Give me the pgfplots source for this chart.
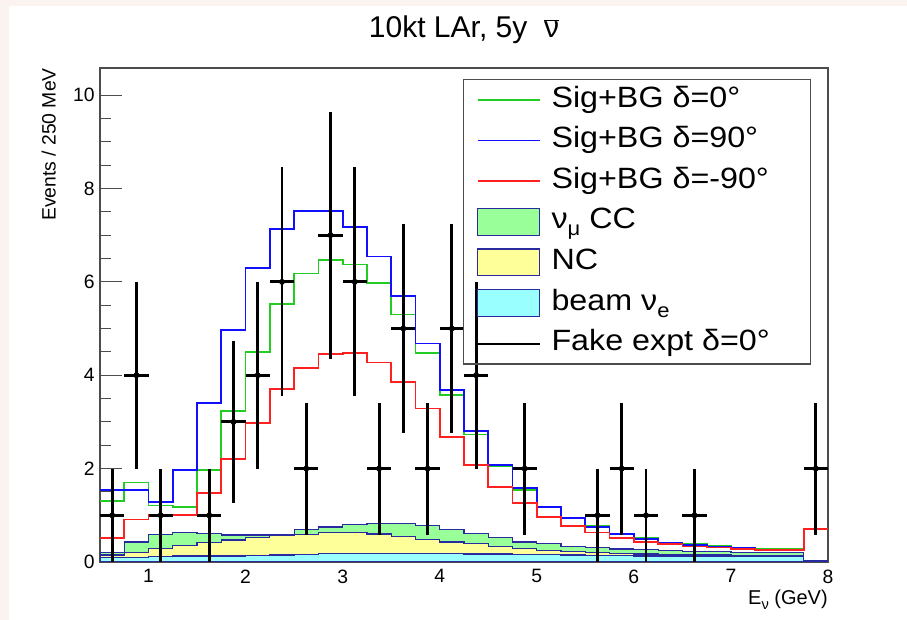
\documentclass[border=0pt]{standalone}
\usepackage{pgfplots}
\usepackage{pgfplotstable}
\pgfplotsset{compat=1.18}
\usepackage{fontspec}
\setmainfont{Liberation Sans}
\newfontfamily\legfont[FakeStretch=1.1]{Liberation Sans}

\definecolor{pagebg}{HTML}{FAF3EF}
\definecolor{ccfill}{HTML}{99FF99}
\definecolor{ncfill}{HTML}{FFFF99}
\definecolor{befill}{HTML}{99FFFF}
\definecolor{histline}{HTML}{2A2AA0}
\definecolor{lgreen}{HTML}{22CC22}
\definecolor{lblue}{HTML}{1010FF}
\definecolor{lred}{HTML}{FF2020}

% 250 MeV bins from 0.5 to 8 GeV (value holds from x to the next x)
% s0, s90, sm90: signal+background for delta = 0, 90, -90 degrees
% tot, nc, beam: stacked background levels (nu_mu CC on top of NC on top of beam nu_e)
\pgfplotstableread{
x    s0   s90  sm90 tot  nc   beam
0.50 1.31 1.54 0.51 0.20 0.15 0.10
0.75 1.70 1.54 0.91 0.43 0.21 0.09
1.00 1.21 1.28 1.01 0.59 0.29 0.11
1.25 1.18 1.97 1.01 0.63 0.36 0.13
1.50 1.97 3.40 1.47 0.61 0.42 0.13
1.75 3.23 4.97 2.20 0.58 0.47 0.13
2.00 4.50 6.29 2.98 0.58 0.52 0.14
2.25 5.53 7.13 3.70 0.59 0.56 0.15
2.50 6.18 7.52 4.16 0.69 0.59 0.16
2.75 6.47 7.52 4.45 0.75 0.63 0.18
3.00 6.37 7.18 4.47 0.81 0.63 0.18
3.25 5.98 6.54 4.27 0.83 0.60 0.18
3.50 5.30 5.70 3.85 0.83 0.54 0.18
3.75 4.47 4.68 3.29 0.78 0.49 0.18
4.00 3.58 3.68 2.68 0.69 0.43 0.18
4.25 2.73 2.81 2.08 0.61 0.39 0.17
4.50 2.06 2.08 1.61 0.52 0.33 0.17
4.75 1.54 1.58 1.26 0.43 0.29 0.16
5.00 1.18 1.18 0.97 0.39 0.24 0.16
5.25 0.94 0.94 0.77 0.33 0.22 0.15
5.50 0.77 0.75 0.63 0.31 0.20 0.14
5.75 0.61 0.60 0.52 0.28 0.18 0.14
6.00 0.51 0.50 0.43 0.26 0.17 0.13
6.25 0.42 0.41 0.39 0.24 0.16 0.13
6.50 0.38 0.37 0.33 0.23 0.15 0.12
6.75 0.34 0.33 0.31 0.22 0.15 0.12
7.00 0.31 0.30 0.28 0.21 0.14 0.11
7.25 0.28 0.27 0.26 0.20 0.14 0.11
7.50 0.28 0.27 0.26 0.20 0.14 0.11
7.75 0.71 0.71 0.71 0.02 0.01 0.01
8.00 0.71 0.71 0.71 0.02 0.01 0.01
}\hist

% fake experiment: counts at bin centres, Poisson errors
\pgfplotstableread{
x     y ex    ey
0.625 1 0.125 1.000
0.875 4 0.125 2.000
1.125 1 0.125 1.000
1.625 1 0.125 1.000
1.875 3 0.125 1.732
2.125 4 0.125 2.000
2.375 6 0.125 2.449
2.625 2 0.125 1.414
2.875 7 0.125 2.646
3.125 6 0.125 2.449
3.375 2 0.125 1.414
3.625 5 0.125 2.236
3.875 2 0.125 1.414
4.125 5 0.125 2.236
4.375 4 0.125 2.000
4.875 2 0.125 1.414
5.625 1 0.125 1.000
5.875 2 0.125 1.414
6.125 1 0.125 1.000
6.625 1 0.125 1.000
7.875 2 0.125 1.414
}\fake

\newcommand{\sub}[1]{\raisebox{-0.45ex}{\fontsize{11}{11}\selectfont #1}}
\newcommand{\lsub}[1]{\raisebox{-0.45ex}{\fontsize{15}{15}\selectfont #1}}
\newcommand{\entry}[1]{\makebox[184.5pt][l]{#1}}

\begin{document}
\begin{tikzpicture}
\fill[pagebg] (0pt,0pt) rectangle (680.25pt,465pt);
\fill[white] (6.75pt,0pt) rectangle (680.25pt,460.5pt);
\begin{axis}[
  at={(75pt,43.5pt)}, anchor=south west,
  scale only axis, width=546pt, height=370.5pt,
  xmin=0.5, xmax=8, ymin=0, ymax=10.58,
  axis line style={line width=1pt, draw=black!70},
  xtick={1,2,...,8}, ytick={0,2,...,10},
  minor y tick num=3,
  ytick pos=left, xtick pos=bottom,
  xtick style={draw=none},
  ytick style={line width=0.8pt, draw=black!70},
  major tick length=16.5pt, minor tick length=8.25pt,
  /pgf/number format/assume math mode=true,
  tick label style={font=\fontsize{14.5}{14.5}\selectfont},
  yticklabel style={inner sep=0pt, xshift=-3.75pt},
  xticklabel style={inner sep=0pt, yshift=-5.5pt},
  title={10kt LAr, 5y \ $\overline{\mbox{ν}}$},
  title style={at={(0.5,1)}, anchor=base, yshift=16.5pt, inner sep=0pt,
    font=\fontsize{22.5}{22.5}\selectfont},
  xlabel={E\sub{ν} (GeV)},
  xlabel style={at={(1,0)}, anchor=north east, inner sep=0pt, yshift=-21pt,
    font=\fontsize{15}{15}\selectfont},
  ylabel={Events / 250 MeV},
  ylabel style={at={(0,1)}, anchor=south east, inner sep=0pt, yshift=33pt,
    font=\fontsize{14.5}{14.5}\selectfont},
  legend style={at={(0.4986,0.9777)}, anchor=north west,
    draw=black!70, line width=1pt, fill=none,
    inner xsep=9.75pt, inner ysep=0pt, row sep=0pt, column sep=8.25pt,
    cells={anchor=west},
    nodes={inner sep=0pt, text height=15.8pt, text depth=5pt, minimum height=30.45pt},
    font=\legfont\fontsize{22}{22}\selectfont},
]
% legend entries
\addlegendimage{legend image code/.code={\draw[color=lgreen, line width=1.3pt] (0pt,0pt) -- (46.5pt,0pt);}}
\addlegendentry{\entry{Sig+BG δ=0°}}
\addlegendimage{legend image code/.code={\draw[color=lblue, line width=1.3pt] (0pt,0pt) -- (46.5pt,0pt);}}
\addlegendentry{\entry{Sig+BG δ=90°}}
\addlegendimage{legend image code/.code={\draw[color=lred, line width=1.3pt] (0pt,0pt) -- (46.5pt,0pt);}}
\addlegendentry{\entry{Sig+BG δ=-90°}}
\addlegendimage{legend image code/.code={\draw[fill=ccfill, draw=histline, line width=0.9pt] (0pt,-10pt) rectangle (46.5pt,10pt);}}
\addlegendentry{\entry{ν\lsub{μ} CC}}
\addlegendimage{legend image code/.code={\draw[fill=ncfill, draw=histline, line width=0.9pt] (0pt,-10pt) rectangle (46.5pt,10pt);}}
\addlegendentry{\entry{NC}}
\addlegendimage{legend image code/.code={\draw[fill=befill, draw=histline, line width=0.9pt] (0pt,-10pt) rectangle (46.5pt,10pt);}}
\addlegendentry{\entry{beam ν\lsub{e}}}
\addlegendimage{legend image code/.code={\draw[color=black, line width=1.4pt] (0pt,0pt) -- (46.5pt,0pt);}}
\addlegendentry{\entry{Fake expt δ=0°}}

% stacked backgrounds
\addplot[forget plot, const plot, fill=ccfill, draw=histline, line width=0.9pt] table[x=x, y=tot]{\hist} \closedcycle;
\addplot[forget plot, const plot, fill=ncfill, draw=histline, line width=0.9pt] table[x=x, y=nc]{\hist} \closedcycle;
\addplot[forget plot, const plot, fill=befill, draw=histline, line width=0.9pt] table[x=x, y=beam]{\hist} \closedcycle;

% signal + background predictions
\addplot[forget plot, const plot, color=lgreen, line width=1.3pt] table[x=x, y=s0]{\hist};
\addplot[forget plot, const plot, color=lblue, line width=1.3pt] table[x=x, y=s90]{\hist};
\addplot[forget plot, const plot, color=lred, line width=1.3pt] table[x=x, y=sm90]{\hist};

% fake experiment
\addplot[forget plot, only marks, mark=none,
  error bars/.cd, x dir=both, x explicit, y dir=both, y explicit,
  error mark=none, error bar style={draw=black, line width=2.2pt}]
  table[x=x, y=y, x error=ex, y error=ey]{\fake};
\end{axis}
\end{tikzpicture}
\end{document}
